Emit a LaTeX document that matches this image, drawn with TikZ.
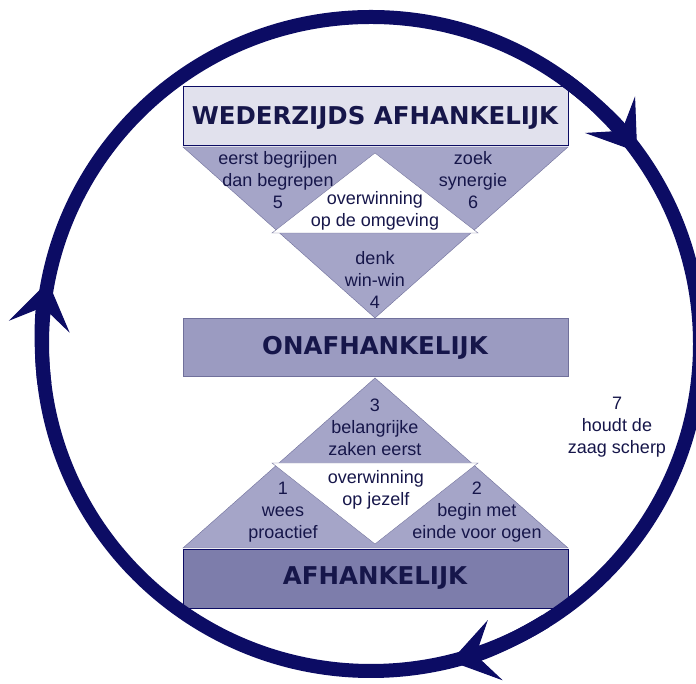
\documentclass[tikz,border=0pt]{standalone}
\usepackage{fontspec}
\setmainfont{Liberation Sans}
\newfontfamily\verafont{DejaVu Sans}
\usetikzlibrary{arrows.meta}
\definecolor{navy}{RGB}{12,12,100}
\definecolor{inkt}{RGB}{22,22,74}
\definecolor{paleblue}{RGB}{225,225,237}
\definecolor{midblue}{RGB}{165,165,200}
\definecolor{boxblue}{RGB}{155,155,193}
\definecolor{deepblue}{RGB}{125,125,171}
\definecolor{edgeblue}{RGB}{112,112,155}
\tikzset{
  txt/.style={align=center, text=inkt, inner sep=0pt, font=\fontsize{18}{22}\selectfont},
  kop/.style={text=inkt, inner sep=0pt, font=\verafont\bfseries\fontsize{24.5}{28}\selectfont},
  ring/.style={draw=navy, line width=14pt},
  pijl/.style={-{Stealth[length=46pt,width=62pt,inset=20pt,line width=1pt]}}
}

\begin{document}
\begin{tikzpicture}[x=1pt,y=1pt]
\useasboundingbox (0,0) rectangle (696,684);
\fill[white] (0,0) rectangle (696,684);

\filldraw[fill=midblue, draw=edgeblue] (183,537) -- (568,537) -- (375,366) -- cycle;
\filldraw[fill=white, draw=edgeblue] (375,531) -- (478,451) -- (272,451) -- cycle;
\filldraw[fill=midblue, draw=edgeblue] (375,306) -- (568,136) -- (183,136) -- cycle;
\filldraw[fill=white, draw=edgeblue] (272,221) -- (478,221) -- (375,140) -- cycle;

\filldraw[fill=paleblue, draw=navy] (183,539) rectangle (568,598);
\filldraw[fill=boxblue, draw=edgeblue] (183,308) rectangle (568,366);
\filldraw[fill=deepblue, draw=navy] (183,76) rectangle (568,135);

\node[kop] (wederzijds) at (375,566) {WEDERZIJDS AFHANKELIJK};
\node[kop] (onafh) at (375,336) {ONAFHANKELIJK};
\node[kop] (afh) at (375,106) {AFHANKELIJK};

\node[txt] (vijf) at (278,504) {eerst begrijpen\\dan begrepen\\5};
\node[txt] (zes) at (473,504) {zoek\\synergie\\6};
\node[txt] (omgeving) at (375,473) {overwinning\\op de omgeving};
\node[txt] (vier) at (375,404) {denk\\win-win\\4};
\node[txt] (drie) at (375,257) {3\\belangrijke\\zaken eerst};
\node[txt] (jezelf) at (376,194) {overwinning\\op jezelf};
\node[txt] (een) at (283,172) {1\\wees\\proactief};
\node[txt] (twee) at (477,172) {2\\begin met\\einde voor ogen};
\node[txt] (zeven) at (617,257) {7\\houdt de\\zaag scherp};

\coordinate (c) at (371,340);
\draw[ring] (c) ellipse [x radius=329, y radius=327];
\draw[ring,pijl] ([shift={(187:329 and 327)}]c) arc[start angle=187, end angle=169, x radius=329, y radius=327];
\draw[ring,pijl] ([shift={(54:329 and 327)}]c) arc[start angle=54, end angle=36, x radius=329, y radius=327];
\draw[ring,pijl] ([shift={(-58:329 and 327)}]c) arc[start angle=-58, end angle=-76, x radius=329, y radius=327];
\end{tikzpicture}
\end{document}
